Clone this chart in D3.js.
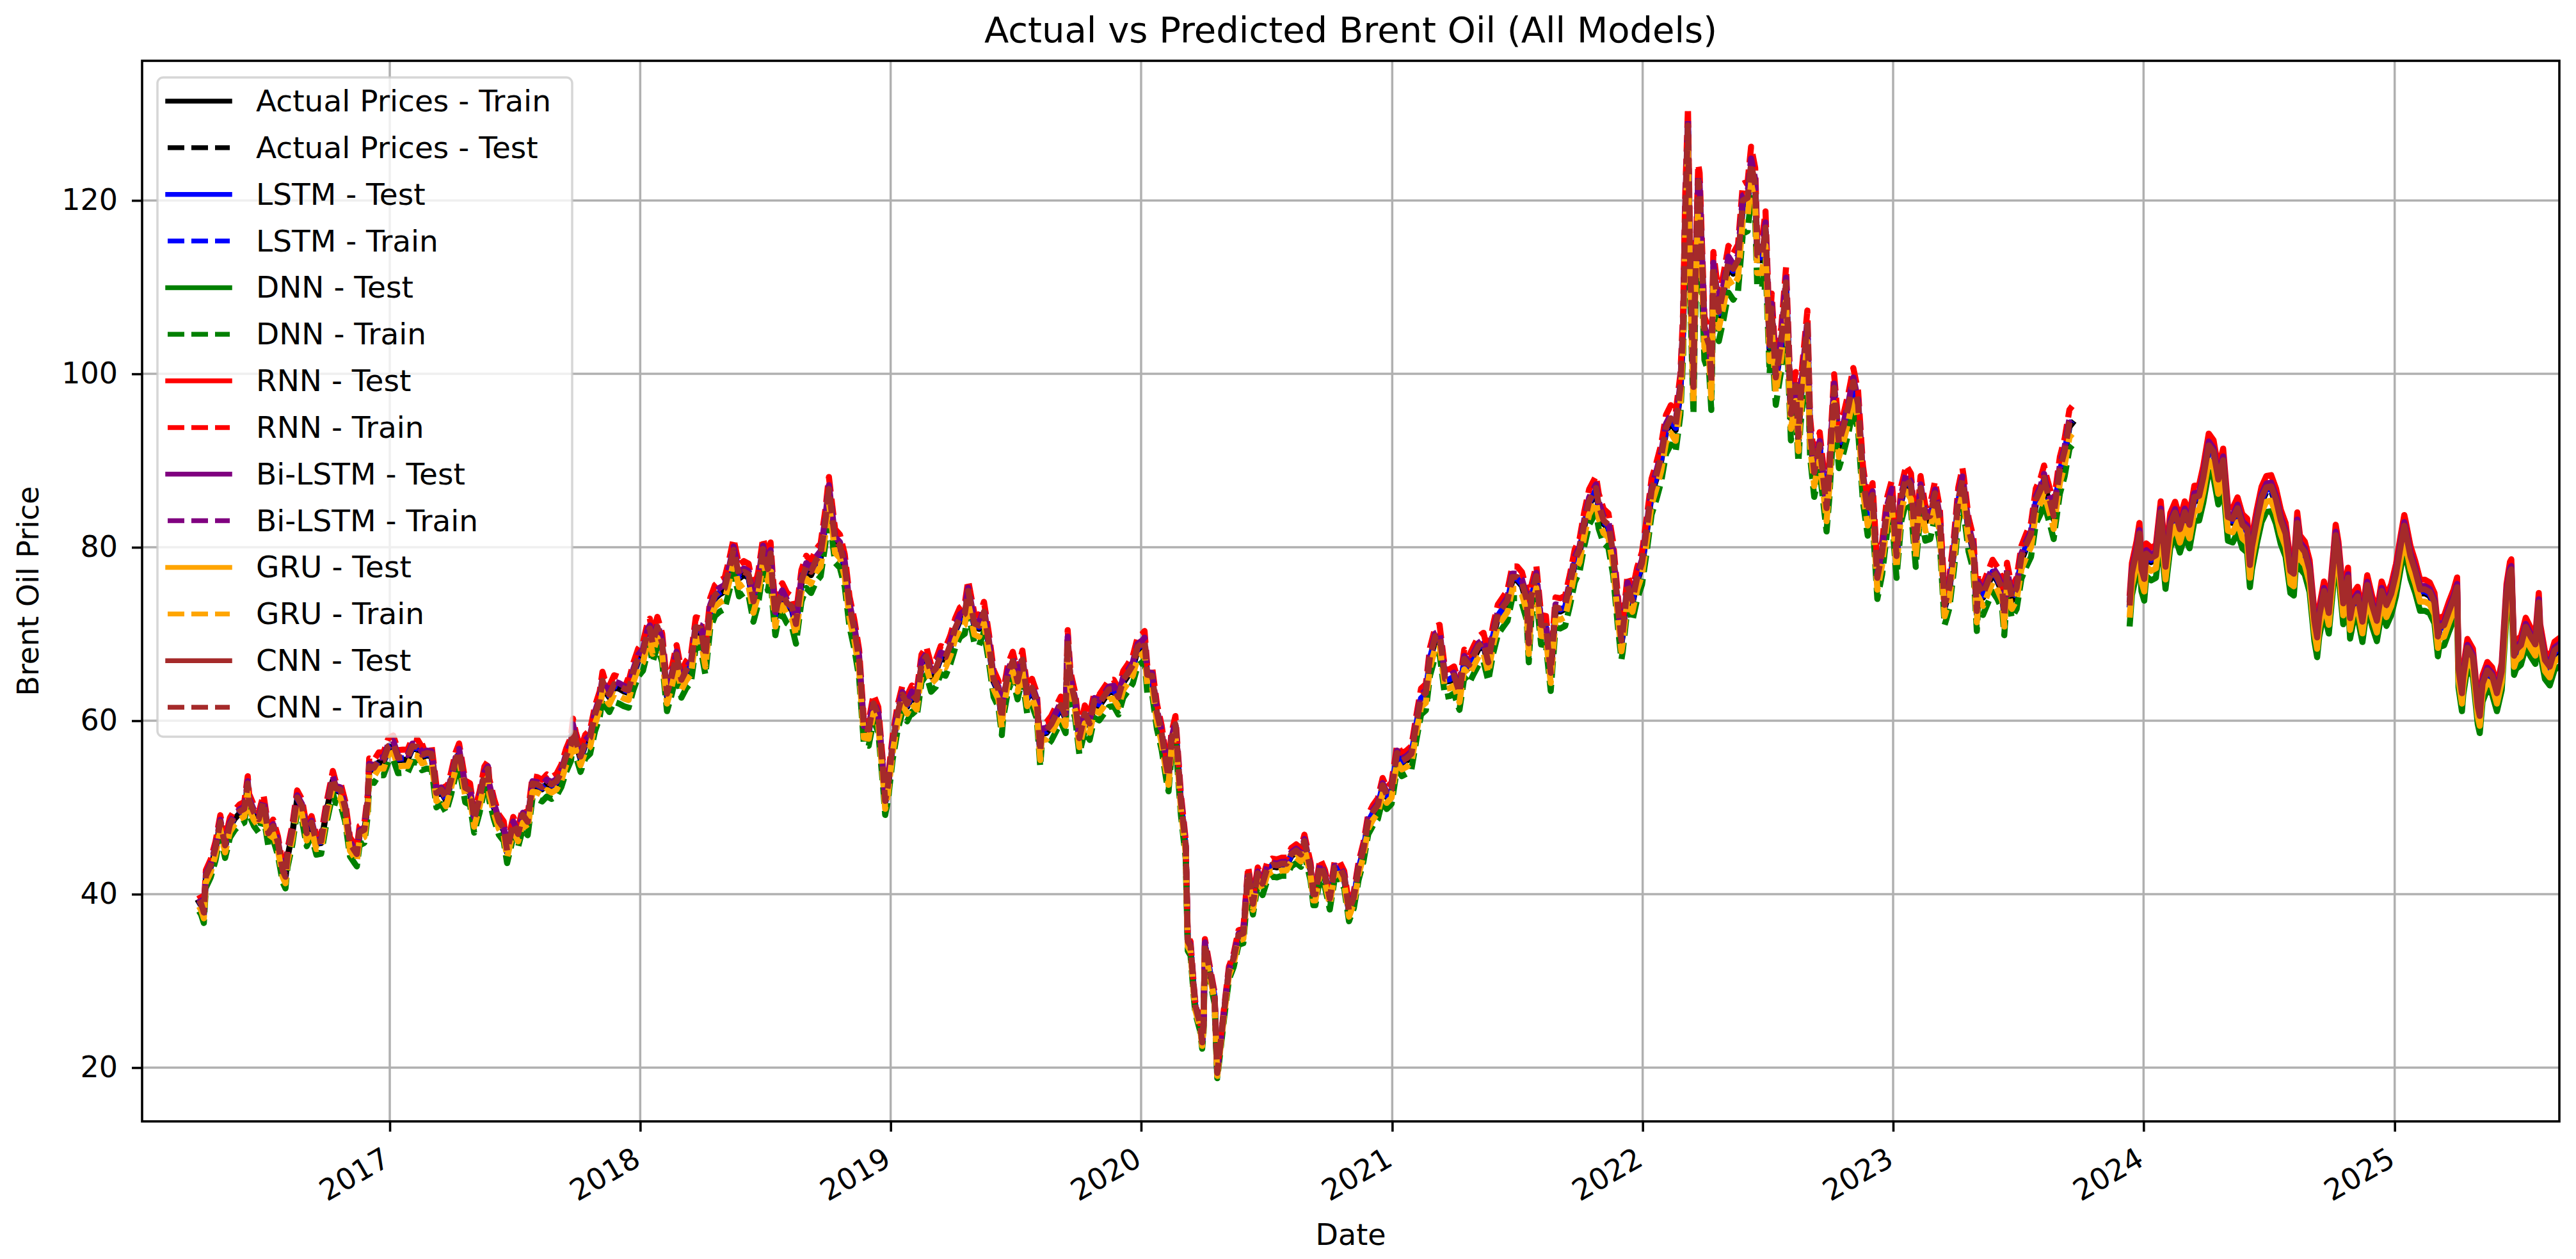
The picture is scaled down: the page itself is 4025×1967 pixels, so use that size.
<!DOCTYPE html>
<html><head><meta charset="utf-8">
<script src="https://cdn.jsdelivr.net/npm/d3@7"></script>
<style>html,body{margin:0;padding:0;background:#fff;overflow:hidden}text{font-family:"DejaVu Sans",sans-serif;}</style>
</head><body><svg id="chart" width="4025" height="1967"></svg>
<script>
// ---------------- DATA ----------------
const chartTitle = "Actual vs Predicted Brent Oil (All Models)";
const xLabel = "Date";
const yLabel = "Brent Oil Price";
const yTickValues = [20, 40, 60, 80, 100, 120];
const xTickYears = [2017, 2018, 2019, 2020, 2021, 2022, 2023, 2024, 2025];
const xDomain = ["2016-01-06", "2025-08-29"];
const yDomain = [13.8, 136.1];
const trainEnd = "2023-09-19";
const testStart = "2023-12-12";

const brent2016 = [["2016-03-29",39.1],["2016-04-01",38.7],["2016-04-05",37.7],["2016-04-08",41.9],["2016-04-15",43.1],["2016-04-22",45.1],["2016-04-29",48.1],["2016-05-06",45.4],["2016-05-13",47.8],["2016-05-20",48.7],["2016-05-27",49.3],["2016-06-03",49.6],["2016-06-08",52.5],["2016-06-10",50.5],["2016-06-17",49.2],["2016-06-24",48.4],["2016-07-01",50.4],["2016-07-08",46.8],["2016-07-15",47.6],["2016-07-22",45.7],["2016-07-29",42.5],["2016-08-02",41.8],["2016-08-05",44.3],["2016-08-12",47.0],["2016-08-19",50.9],["2016-08-26",49.9],["2016-09-02",46.8],["2016-09-09",48.0],["2016-09-16",45.8],["2016-09-23",45.9],["2016-09-30",49.2],["2016-10-07",51.9],["2016-10-10",53.1],["2016-10-14",51.95],["2016-10-21",51.8],["2016-10-28",49.7],["2016-11-04",45.6],["2016-11-11",44.75],["2016-11-14",44.4],["2016-11-18",46.9],["2016-11-25",47.2],["2016-11-30",50.5],["2016-12-02",54.5],["2016-12-09",54.3],["2016-12-16",55.2],["2016-12-23",55.2],["2016-12-30",56.8]];
const brent2017 = [["2017-01-06",57.1],["2017-01-13",55.45],["2017-01-20",55.5],["2017-01-27",55.5],["2017-02-03",56.8],["2017-02-10",56.7],["2017-02-17",55.8],["2017-02-24",56.0],["2017-03-03",55.9],["2017-03-10",51.4],["2017-03-17",51.8],["2017-03-24",50.8],["2017-03-31",52.8],["2017-04-07",55.2],["2017-04-12",56.2],["2017-04-21",52.0],["2017-04-28",51.7],["2017-05-04",48.4],["2017-05-12",50.8],["2017-05-19",53.6],["2017-05-24",54.2],["2017-05-26",52.2],["2017-06-02",49.95],["2017-06-09",48.15],["2017-06-16",47.4],["2017-06-21",44.8],["2017-06-23",45.5],["2017-06-30",47.9],["2017-07-07",46.7],["2017-07-14",48.9],["2017-07-21",48.1],["2017-07-28",52.5],["2017-08-04",52.4],["2017-08-11",52.1],["2017-08-18",52.7],["2017-08-25",52.4],["2017-09-01",52.75],["2017-09-08",53.8],["2017-09-15",55.6],["2017-09-22",56.9],["2017-09-25",59.0],["2017-09-29",57.5],["2017-10-06",55.6],["2017-10-13",57.2],["2017-10-20",57.75],["2017-10-27",60.4],["2017-11-03",62.1],["2017-11-07",64.3],["2017-11-10",63.5],["2017-11-17",62.7],["2017-11-24",63.9],["2017-12-01",63.7],["2017-12-08",63.4],["2017-12-15",63.2],["2017-12-22",65.3],["2017-12-29",66.9]];
const brent2018 = [["2018-01-05",67.6],["2018-01-12",69.9],["2018-01-15",70.3],["2018-01-19",68.6],["2018-01-26",70.5],["2018-02-02",68.6],["2018-02-09",62.8],["2018-02-16",64.8],["2018-02-23",67.3],["2018-03-02",64.4],["2018-03-09",65.5],["2018-03-16",66.2],["2018-03-23",70.45],["2018-03-30",70.3],["2018-04-06",67.1],["2018-04-13",72.6],["2018-04-20",74.1],["2018-04-27",74.6],["2018-05-04",74.9],["2018-05-11",77.1],["2018-05-17",79.3],["2018-05-25",76.4],["2018-06-01",76.8],["2018-06-08",76.5],["2018-06-15",73.4],["2018-06-22",75.55],["2018-06-29",79.4],["2018-07-06",77.1],["2018-07-10",78.9],["2018-07-13",75.3],["2018-07-17",71.8],["2018-07-20",73.1],["2018-07-27",74.3],["2018-08-03",73.2],["2018-08-10",72.8],["2018-08-16",70.8],["2018-08-24",75.8],["2018-08-31",77.4],["2018-09-07",76.8],["2018-09-14",78.1],["2018-09-21",78.8],["2018-09-28",82.7],["2018-10-03",86.3],["2018-10-12",80.4],["2018-10-19",79.8],["2018-10-26",77.6],["2018-11-02",72.8],["2018-11-09",70.2],["2018-11-16",66.8],["2018-11-23",58.8],["2018-11-30",58.7],["2018-12-07",61.7],["2018-12-14",60.3],["2018-12-21",53.8],["2018-12-24",50.5],["2018-12-28",52.2]];
const brent2019 = [["2019-01-04",57.1],["2019-01-11",60.5],["2019-01-18",62.7],["2019-01-25",61.6],["2019-02-01",62.75],["2019-02-08",62.1],["2019-02-15",66.25],["2019-02-22",67.1],["2019-03-01",65.1],["2019-03-08",65.7],["2019-03-15",67.2],["2019-03-22",67.0],["2019-03-29",68.4],["2019-04-05",70.3],["2019-04-12",71.55],["2019-04-19",71.97],["2019-04-24",74.6],["2019-05-03",70.85],["2019-05-10",70.6],["2019-05-17",72.2],["2019-05-24",68.7],["2019-05-31",64.5],["2019-06-07",63.3],["2019-06-12",59.97],["2019-06-14",62.0],["2019-06-21",65.2],["2019-06-28",66.55],["2019-07-05",64.2],["2019-07-12",66.7],["2019-07-19",62.5],["2019-07-26",63.5],["2019-08-02",61.9],["2019-08-07",56.2],["2019-08-09",58.5],["2019-08-16",58.6],["2019-08-23",59.3],["2019-08-30",60.4],["2019-09-06",61.5],["2019-09-13",60.2],["2019-09-16",69.0],["2019-09-20",64.3],["2019-09-27",61.9],["2019-10-03",57.7],["2019-10-11",60.5],["2019-10-18",59.4],["2019-10-25",62.0],["2019-11-01",61.7],["2019-11-08",62.5],["2019-11-15",63.3],["2019-11-22",63.4],["2019-11-29",62.4],["2019-12-06",64.4],["2019-12-13",65.2],["2019-12-20",66.1],["2019-12-27",68.2]];
const brent2020 = [["2020-01-03",68.6],["2020-01-06",68.9],["2020-01-10",64.98],["2020-01-17",64.85],["2020-01-24",60.7],["2020-01-31",58.2],["2020-02-07",54.5],["2020-02-10",53.3],["2020-02-14",57.3],["2020-02-20",59.3],["2020-02-28",50.5],["2020-03-06",45.3],["2020-03-09",34.4],["2020-03-13",33.85],["2020-03-18",28.7],["2020-03-20",27.0],["2020-03-27",24.9],["2020-03-30",22.8],["2020-04-01",24.7],["2020-04-03",34.1],["2020-04-09",31.5],["2020-04-17",28.1],["2020-04-21",19.3],["2020-04-24",21.4],["2020-05-01",26.4],["2020-05-08",31.0],["2020-05-15",32.5],["2020-05-22",35.1],["2020-05-29",35.3],["2020-06-05",42.3],["2020-06-12",38.7],["2020-06-19",42.2],["2020-06-26",41.0],["2020-07-03",42.8],["2020-07-10",43.2],["2020-07-17",43.1],["2020-07-24",43.3],["2020-07-31",43.3],["2020-08-07",44.4],["2020-08-14",44.8],["2020-08-21",44.35],["2020-08-26",45.9],["2020-09-04",42.7],["2020-09-08",39.8],["2020-09-11",39.8],["2020-09-18",43.15],["2020-09-25",41.9],["2020-10-02",39.3],["2020-10-09",42.85],["2020-10-16",42.9],["2020-10-23",41.8],["2020-10-30",37.9],["2020-11-06",39.45],["2020-11-13",42.8],["2020-11-20",44.96],["2020-11-27",48.2],["2020-12-04",49.25],["2020-12-11",50.0],["2020-12-18",52.3],["2020-12-24",51.2],["2020-12-31",51.8]];
const brent2021 = [["2021-01-08",56.0],["2021-01-15",55.1],["2021-01-22",55.4],["2021-01-29",55.9],["2021-02-05",59.3],["2021-02-12",62.4],["2021-02-19",62.9],["2021-02-25",67.0],["2021-03-05",69.4],["2021-03-11",69.6],["2021-03-19",64.5],["2021-03-26",64.6],["2021-04-01",64.9],["2021-04-09",62.95],["2021-04-16",66.8],["2021-04-23",66.1],["2021-04-30",67.25],["2021-05-07",68.3],["2021-05-14",68.7],["2021-05-21",66.4],["2021-05-28",69.6],["2021-06-04",71.9],["2021-06-11",72.7],["2021-06-18",73.5],["2021-06-25",76.2],["2021-07-02",76.2],["2021-07-09",75.55],["2021-07-16",73.6],["2021-07-19",68.6],["2021-07-23",74.1],["2021-07-30",76.3],["2021-08-06",70.7],["2021-08-13",70.6],["2021-08-20",65.2],["2021-08-27",72.7],["2021-09-03",72.6],["2021-09-10",72.9],["2021-09-17",75.3],["2021-09-24",78.1],["2021-10-01",79.3],["2021-10-08",82.4],["2021-10-15",84.9],["2021-10-25",86.4],["2021-10-29",84.4],["2021-11-05",82.7],["2021-11-12",82.2],["2021-11-19",78.9],["2021-11-26",72.7],["2021-12-01",68.9],["2021-12-03",69.9],["2021-12-10",75.2],["2021-12-17",73.5],["2021-12-24",76.1],["2021-12-31",77.8]];
const brent2022 = [["2022-01-07",81.75],["2022-01-14",86.1],["2022-01-21",87.9],["2022-01-28",90.0],["2022-02-04",93.3],["2022-02-11",94.4],["2022-02-18",93.5],["2022-02-25",97.9],["2022-03-01",105.0],["2022-03-04",118.1],["2022-03-08",128.0],["2022-03-11",112.7],["2022-03-16",98.0],["2022-03-18",107.9],["2022-03-23",121.6],["2022-03-25",120.65],["2022-04-01",104.4],["2022-04-08",102.8],["2022-04-11",98.5],["2022-04-14",111.7],["2022-04-22",106.65],["2022-04-29",109.3],["2022-05-06",112.4],["2022-05-13",111.55],["2022-05-20",112.55],["2022-05-27",119.4],["2022-06-03",119.7],["2022-06-08",123.6],["2022-06-14",121.2],["2022-06-17",113.1],["2022-06-24",113.1],["2022-06-29",116.3],["2022-07-05",102.8],["2022-07-08",107.0],["2022-07-14",99.1],["2022-07-22",103.2],["2022-07-29",110.0],["2022-08-05",94.9],["2022-08-12",98.15],["2022-08-16",92.3],["2022-08-19",96.7],["2022-08-29",105.1],["2022-09-02",93.0],["2022-09-08",88.2],["2022-09-16",91.35],["2022-09-26",84.1],["2022-09-30",88.0],["2022-10-07",97.9],["2022-10-14",91.6],["2022-10-21",93.5],["2022-10-28",95.8],["2022-11-04",98.6],["2022-11-11",96.0],["2022-11-18",87.6],["2022-11-25",83.6],["2022-12-02",85.6],["2022-12-09",76.1],["2022-12-16",79.0],["2022-12-23",83.9],["2022-12-30",85.9]];
const brent2023 = [["2023-01-06",78.6],["2023-01-13",85.3],["2023-01-20",87.6],["2023-01-27",86.7],["2023-02-03",79.9],["2023-02-10",86.4],["2023-02-17",83.0],["2023-02-24",83.2],["2023-03-03",85.8],["2023-03-10",82.8],["2023-03-17",73.0],["2023-03-20",73.8],["2023-03-24",75.0],["2023-03-31",79.8],["2023-04-06",85.1],["2023-04-12",87.3],["2023-04-14",86.3],["2023-04-21",81.7],["2023-04-28",79.5],["2023-05-03",72.3],["2023-05-05",75.3],["2023-05-12",74.2],["2023-05-19",75.6],["2023-05-26",76.95],["2023-06-02",76.1],["2023-06-09",74.8],["2023-06-12",71.8],["2023-06-16",76.6],["2023-06-23",73.85],["2023-06-30",74.9],["2023-07-07",78.5],["2023-07-14",79.9],["2023-07-21",81.1],["2023-07-28",85.0],["2023-08-04",86.2],["2023-08-09",87.6],["2023-08-11",86.8],["2023-08-18",84.8],["2023-08-23",83.2],["2023-08-25",84.5],["2023-09-01",88.55],["2023-09-08",90.65],["2023-09-15",93.9],["2023-09-19",94.3],
  ["2023-12-12",73.2],["2023-12-15",76.55],["2023-12-22",79.1],["2023-12-26",81.1],["2023-12-29",77.0]];
const brent2024 = [["2024-01-02",75.9],["2024-01-05",78.8],["2024-01-12",78.3],["2024-01-19",78.6],["2024-01-26",83.55],["2024-02-02",77.3],["2024-02-09",82.2],["2024-02-16",83.5],["2024-02-23",81.6],["2024-03-01",83.55],["2024-03-08",82.1],["2024-03-15",85.3],["2024-03-22",85.4],["2024-03-28",87.5],["2024-04-05",91.2],["2024-04-12",90.45],["2024-04-19",87.3],["2024-04-26",89.5],["2024-05-03",83.0],["2024-05-10",82.8],["2024-05-17",84.0],["2024-05-24",82.1],["2024-05-31",81.6],["2024-06-04",77.5],["2024-06-07",79.6],["2024-06-14",82.6],["2024-06-21",85.2],["2024-06-28",86.4],["2024-07-05",86.5],["2024-07-12",85.0],["2024-07-19",82.6],["2024-07-26",81.1],["2024-08-02",76.8],["2024-08-07",76.5],["2024-08-12",82.3],["2024-08-16",79.7],["2024-08-23",79.0],["2024-08-30",76.9],["2024-09-06",71.1],["2024-09-10",69.2],["2024-09-13",71.6],["2024-09-20",74.5],["2024-09-27",72.0],["2024-10-04",78.05],["2024-10-07",80.9],["2024-10-11",79.0],["2024-10-18",73.1],["2024-10-25",76.05],["2024-10-28",71.4],["2024-11-01",73.1],["2024-11-08",73.9],["2024-11-15",71.0],["2024-11-22",75.2],["2024-11-29",72.9],["2024-12-06",71.1],["2024-12-13",74.5],["2024-12-20",72.9],["2024-12-27",74.2]];
const brent2025 = [["2025-01-03",76.5],["2025-01-10",79.8],["2025-01-15",82.0],["2025-01-17",81.3],["2025-01-24",78.5],["2025-01-31",76.8],["2025-02-07",74.7],["2025-02-14",74.7],["2025-02-21",74.4],["2025-02-28",73.2],["2025-03-05",69.3],["2025-03-07",70.4],["2025-03-14",70.6],["2025-03-21",72.2],["2025-03-28",73.6],["2025-04-02",74.95],["2025-04-04",65.6],["2025-04-09",62.8],["2025-04-11",64.8],["2025-04-17",68.0],["2025-04-25",66.9],["2025-05-02",61.3],["2025-05-05",60.2],["2025-05-09",63.9],["2025-05-16",65.4],["2025-05-23",64.8],["2025-05-30",62.8],["2025-06-06",65.3],["2025-06-13",74.2],["2025-06-18",76.7],["2025-06-20",77.0],["2025-06-24",67.1],["2025-06-27",67.8],["2025-07-04",68.3],["2025-07-11",70.4],["2025-07-18",69.3],["2025-07-25",68.4],["2025-07-30",73.2],["2025-08-01",69.7],["2025-08-08",66.6],["2025-08-15",65.85],["2025-08-22",67.7],["2025-08-29",68.1]];

// models: prediction = actual price x ratio
const modelNames = ["LSTM", "DNN", "RNN", "Bi-LSTM", "GRU", "CNN"];
const modelColors = ["blue", "green", "red", "purple", "orange", "brown"];
const modelTrainRatio = [1.003, 0.973, 1.021, 1.010, 0.987, 1.005];
const modelTestRatio  = [1.003, 0.973, 1.021, 1.011, 0.987, 1.006];

// ---------------- DRAWING ----------------
const W = 4025, H = 1967;
const plot = {left: 222, right: 3999, top: 95, bottom: 1752};
const svg = d3.select("#chart");
svg.append("rect").attr("width", W).attr("height", H).attr("fill", "#fff");

const parse = d3.utcParse("%Y-%m-%d");
const allRows = [].concat(brent2016, brent2017, brent2018, brent2019, brent2020, brent2021, brent2022, brent2023, brent2024, brent2025)
  .map(([d, v]) => ({date: parse(d), value: v}));
const trainRows = allRows.filter(r => r.date <= parse(trainEnd));
const testRows = allRows.filter(r => r.date >= parse(testStart));

const x = d3.scaleUtc().domain(xDomain.map(parse)).range([plot.left, plot.right]);
const y = d3.scaleLinear().domain(yDomain).range([plot.bottom, plot.top]);
const xTicks = xTickYears.map(yr => new Date(Date.UTC(yr, 0, 1)));

const LW = 9.5, LEGW = 7.5, GRIDW = 3.5, SPW = 3.6;
const DASH = "26,11";

// grid
const grid = svg.append("g");
grid.selectAll("line.gx").data(xTicks).join("line")
  .attr("x1", d => x(d)).attr("x2", d => x(d)).attr("y1", plot.top).attr("y2", plot.bottom)
  .attr("stroke", "#b0b0b0").attr("stroke-width", GRIDW);
grid.selectAll("line.gy").data(yTickValues).join("line")
  .attr("x1", plot.left).attr("x2", plot.right).attr("y1", d => y(d)).attr("y2", d => y(d))
  .attr("stroke", "#b0b0b0").attr("stroke-width", GRIDW);

// clip
svg.append("clipPath").attr("id", "clip").append("rect")
  .attr("x", plot.left).attr("y", plot.top).attr("width", plot.right - plot.left).attr("height", plot.bottom - plot.top);

const lineGen = d3.line().x(d => x(d.date)).y(d => y(d.value));
const series = [];
series.push({rows: trainRows, color: "black", dashed: false});
series.push({rows: testRows, color: "black", dashed: true});
modelNames.forEach((m, i) => {
  series.push({rows: testRows.map(r => ({date: r.date, value: r.value * modelTestRatio[i]})), color: modelColors[i], dashed: false});
  series.push({rows: trainRows.map(r => ({date: r.date, value: r.value * modelTrainRatio[i]})), color: modelColors[i], dashed: true});
});
const dataG = svg.append("g").attr("clip-path", "url(#clip)");
series.forEach(s => {
  dataG.append("path").attr("d", lineGen(s.rows)).attr("fill", "none")
    .attr("stroke", s.color).attr("stroke-width", LW)
    .attr("stroke-linejoin", "round")
    .attr("stroke-linecap", s.dashed ? "butt" : "square")
    .attr("stroke-dasharray", s.dashed ? DASH : null);
});

// axes
const gx = svg.append("g").attr("transform", `translate(0,${plot.bottom})`)
  .call(d3.axisBottom(x).tickValues(xTicks).tickFormat(d3.utcFormat("%Y")).tickSize(16).tickPadding(0));
gx.select(".domain").remove();
gx.selectAll(".tick line").attr("stroke", "#000").attr("stroke-width", SPW);
gx.selectAll(".tick text").attr("y", 0).attr("dy", "0.73em").attr("text-anchor", "end")
  .attr("transform", "translate(-14,38) rotate(-30)").attr("font-size", 46).attr("fill", "#000")
  .style("font-family", "'DejaVu Sans', sans-serif");

const gy = svg.append("g").attr("transform", `translate(${plot.left},0)`)
  .call(d3.axisLeft(y).tickValues(yTickValues).tickSize(16).tickPadding(22));
gy.select(".domain").remove();
gy.selectAll(".tick line").attr("stroke", "#000").attr("stroke-width", SPW);
gy.selectAll(".tick text").attr("font-size", 46).attr("fill", "#000").style("font-family", "'DejaVu Sans', sans-serif");

// spines
svg.append("rect").attr("x", plot.left).attr("y", plot.top).attr("width", plot.right - plot.left).attr("height", plot.bottom - plot.top)
  .attr("fill", "none").attr("stroke", "#000").attr("stroke-width", SPW);

// titles
svg.append("text").attr("x", (plot.left + plot.right) / 2).attr("y", 66).attr("text-anchor", "middle")
  .attr("font-size", 56).attr("fill", "#000").text(chartTitle);
svg.append("text").attr("x", (plot.left + plot.right) / 2).attr("y", 1945).attr("text-anchor", "middle")
  .attr("font-size", 46).attr("fill", "#000").text(xLabel);
svg.append("text").attr("transform", `translate(60,${(plot.top + plot.bottom) / 2}) rotate(-90)`).attr("text-anchor", "middle")
  .attr("font-size", 46).attr("fill", "#000").text(yLabel);

// legend
const legendItems = [{label: "Actual Prices - Train", color: "black", dashed: false}, {label: "Actual Prices - Test", color: "black", dashed: true}];
modelNames.forEach((m, i) => {
  legendItems.push({label: m + " - Test", color: modelColors[i], dashed: false});
  legendItems.push({label: m + " - Train", color: modelColors[i], dashed: true});
});
const lg = svg.append("g");
lg.append("rect").attr("x", 246).attr("y", 121).attr("width", 648).attr("height", 1030).attr("rx", 9)
  .attr("fill", "#fff").attr("fill-opacity", 0.8).attr("stroke", "#cccccc").attr("stroke-opacity", 0.8).attr("stroke-width", 3.5);
const rowY = d3.scaleLinear().domain([0, 13]).range([158, 1105]);
legendItems.forEach((it, i) => {
  const cy = rowY(i);
  lg.append("line").attr("x1", 262).attr("x2", 359).attr("y1", cy).attr("y2", cy)
    .attr("stroke", it.color).attr("stroke-width", LEGW)
    .attr("stroke-linecap", it.dashed ? "butt" : "square")
    .attr("stroke-dasharray", it.dashed ? DASH : null);
  lg.append("text").attr("x", 400).attr("y", cy + 16).attr("font-size", 47).attr("fill", "#000").text(it.label);
});
</script>
</body></html>
